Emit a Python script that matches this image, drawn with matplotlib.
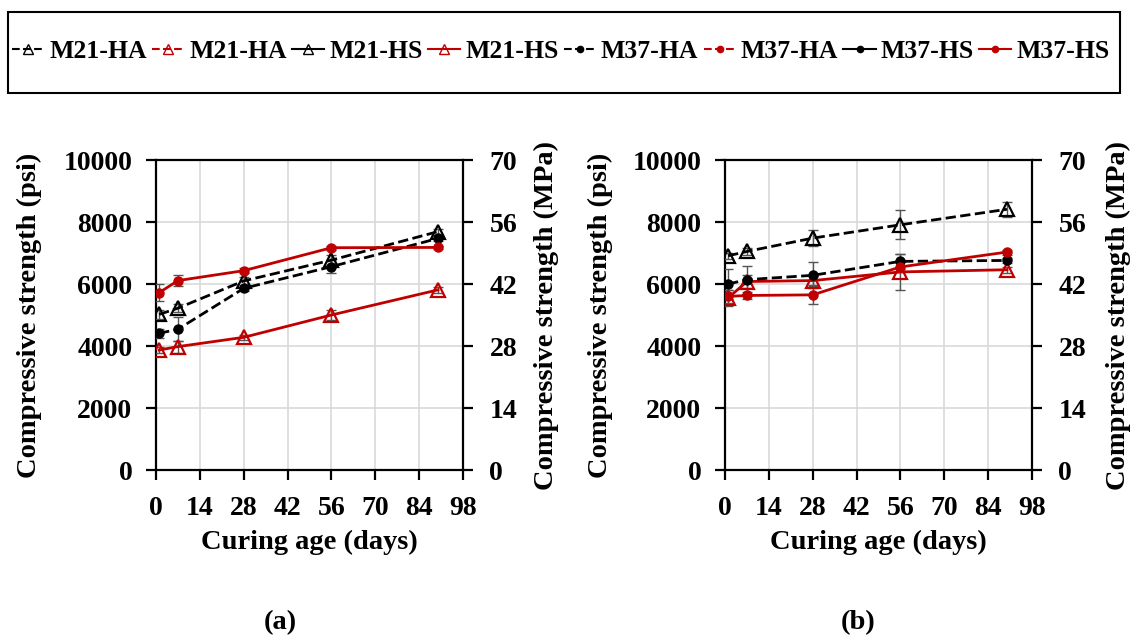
import matplotlib
matplotlib.use('Agg')
import matplotlib.pyplot as plt
import matplotlib.patches as patches
from matplotlib.lines import Line2D

plt.rcParams['font.family'] = 'Liberation Serif'
plt.rcParams['font.weight'] = 'bold'

RED = '#C00000'

# curing ages (days)
days = [1, 7, 28, 56, 90]

# panel (a) - compressive strength in psi with +/- error
m21_ha_a = [5020, 5220, 6100, 6770, 7690]
m21_ha_a_err = [150, 120, 120, 150, 100]
m21_hs_a = [3870, 3980, 4280, 5000, 5810]
m21_hs_a_err = [100, 190, 80, 150, 100]
m37_ha_a = [4410, 4540, 5860, 6560, 7470]
m37_ha_a_err = [150, 380, 80, 200, 80]
m37_hs_a = [5720, 6110, 6430, 7170, 7180]
m37_hs_a_err = [270, 170, 80, 60, 60]

# panel (b)
m21_ha_b = [6910, 7050, 7480, 7910, 8410]
m21_ha_b_err = [100, 100, 250, 470, 250]
m21_hs_b = [5550, 6080, 6110, 6390, 6460]
m21_hs_b_err = [250, 200, 150, 590, 100]
m37_ha_b = [6000, 6140, 6280, 6730, 6760]
m37_ha_b_err = [490, 450, 420, 250, 80]
m37_hs_b = [5600, 5630, 5650, 6550, 7030]
m37_hs_b_err = [200, 100, 300, 150, 80]

legend_labels = ['M21-HA', 'M21-HA', 'M21-HS', 'M21-HS',
                 'M37-HA', 'M37-HA', 'M37-HS', 'M37-HS']
legend_colors = ['black', RED, 'black', RED, 'black', RED, 'black', RED]
legend_styles = ['--', '--', '-', '-', '--', '--', '-', '-']
legend_markers = ['^', '^', '^', '^', 'o', 'o', 'o', 'o']

psi_ticks = [0, 2000, 4000, 6000, 8000, 10000]
mpa_ticks = [0, 14, 28, 42, 56, 70]
day_ticks = [0, 14, 28, 42, 56, 70, 84, 98]

W, H = 1133, 639
fig = plt.figure(figsize=(W / 100, H / 100), dpi=100)


def panel(left_px, series):
    ax = fig.add_axes([left_px / W, 1 - 470 / H, 307 / W, 310 / H])
    for vals, err, ls, col, mk in series:
        ax.errorbar(days, vals, yerr=err, fmt='none', ecolor='#555555',
                    elinewidth=1.0, capsize=3.5, capthick=1.0, zorder=3)
        if mk == '^':
            ax.plot(days, vals, linestyle=ls, color=col, lw=2.0, marker='^',
                    ms=10.5, mfc='none', mec=col, mew=1.6, zorder=4)
        else:
            ax.plot(days, vals, linestyle=ls, color=col, lw=2.0, marker='o',
                    ms=6.5, mfc=col, mec=col, zorder=5)
    ax.set_xlim(0, 98)
    ax.set_ylim(0, 10000)
    ax.set_xticks(day_ticks)
    ax.set_yticks(psi_ticks)
    ax.grid(True, color='#d9d9d9', lw=1.2, zorder=0)
    ax.set_axisbelow(True)
    for s in ['left', 'bottom', 'top']:
        ax.spines[s].set_linewidth(1.6)
    ax.spines['right'].set_visible(False)
    ax.tick_params(direction='out', length=7, width=1.6, labelsize=20, pad=10)
    ax.tick_params(axis='x', pad=12)

    ax2 = ax.twinx()
    ax2.set_ylim(0, 70)
    ax2.set_yticks(mpa_ticks)
    ax2.spines['right'].set_linewidth(1.6)
    for s in ['left', 'bottom', 'top']:
        ax2.spines[s].set_visible(False)
    ax2.tick_params(direction='out', length=7, width=1.6, labelsize=20, pad=12)
    return ax


panel(156, [
    (m21_ha_a, m21_ha_a_err, '--', 'black', '^'),
    (m37_ha_a, m37_ha_a_err, '--', 'black', 'o'),
    (m21_hs_a, m21_hs_a_err, '-', RED, '^'),
    (m37_hs_a, m37_hs_a_err, '-', RED, 'o'),
])
panel(725, [
    (m21_ha_b, m21_ha_b_err, '--', 'black', '^'),
    (m37_ha_b, m37_ha_b_err, '--', 'black', 'o'),
    (m21_hs_b, m21_hs_b_err, '-', RED, '^'),
    (m37_hs_b, m37_hs_b_err, '-', RED, 'o'),
])

# axis titles placed in figure pixels
def ftext(x, y, s, size, rot=0):
    fig.text(x / W, 1 - y / H, s, fontsize=size, fontweight='bold',
             ha='center', va='center', rotation=rot)

for lx, rx, cx in [(29, 546, 309), (600, 1118, 878)]:
    ftext(lx, 315, 'Compressive strength (psi)', 20.5, 90)
    ftext(rx, 315, 'Compressive strength (MPa)', 20.5, 90)
    ftext(cx, 542, 'Curing age (days)', 20.5)
ftext(280, 623, '(a)', 20.5)
ftext(858, 623, '(b)', 20.5)

# legend strip across the top
handles = []
for c, ls, m in zip(legend_colors, legend_styles, legend_markers):
    if m == '^':
        handles.append(Line2D([], [], color=c, ls=ls, lw=1.5, marker='^', ms=7,
                              mfc='none', mec=c, mew=1.0))
    else:
        handles.append(Line2D([], [], color=c, ls=ls, lw=1.5, marker='o', ms=4.5,
                              mfc=c, mec=c))
fig.legend(handles, legend_labels, loc='center', bbox_to_anchor=(0.495, 1 - 51 / H),
           ncol=8, frameon=False, handlelength=1.25,
           handletextpad=0.2, columnspacing=0.2,
           prop={'family': 'Liberation Serif', 'weight': 'bold', 'size': 18.5})
fig.add_artist(patches.Rectangle((8 / W, 1 - 93 / H), 1112 / W, 81 / H,
                                 transform=fig.transFigure, fill=False,
                                 edgecolor='black', lw=1.5))

fig.savefig('out.png', dpi=100)
